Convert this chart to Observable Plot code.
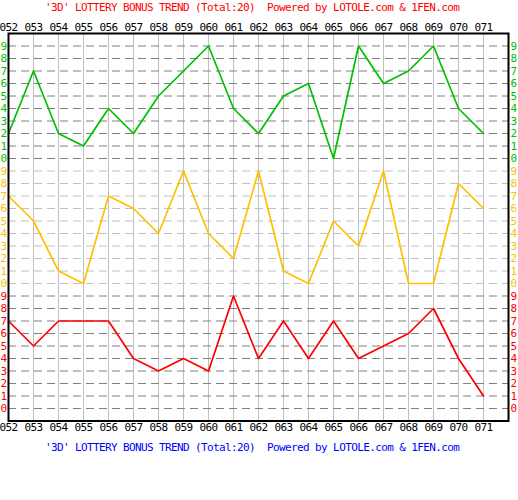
<!DOCTYPE html>
<html><head><meta charset="utf-8">
<script src="https://cdn.jsdelivr.net/npm/d3@7"></script>
<script src="https://cdn.jsdelivr.net/npm/@observablehq/plot@0.6"></script>
<style>
body{margin:0;background:#fff;}
.t{font-family:"DejaVu Sans Mono",monospace;font-size:11px;letter-spacing:-0.62px;height:15px;line-height:15px;width:473px;padding-left:45px;white-space:pre;}
#chart{height:425px;}
</style></head><body>
<div class="t" id="title" style="color:#ff0000"></div>
<div id="chart"></div>
<div class="t" id="caption" style="color:#0000ff"></div>
<script>
const titleText = "'3D' LOTTERY BONUS TREND (Total:20)  Powered by LOTOLE.com & 1FEN.com";
const periods = ["052","053","054","055","056","057","058","059","060","061","062","063","064","065","066","067","068","069","070","071"];
const greenValues  = [2,7,2,1,4,2,5,7,9,4,2,5,6,0,9,6,7,9,4,2];
const yellowValues = [7,5,1,0,7,6,4,9,4,2,9,1,0,5,3,9,0,0,8,6];
const redValues    = [7,5,7,7,7,4,3,4,3,9,4,7,4,7,4,5,6,8,4,1];
const digits = [0,1,2,3,4,5,6,7,8,9];

document.getElementById("title").textContent = titleText;
document.getElementById("caption").textContent = titleText;

const sections = [
  {values: greenValues,  base: 21, color: "#00c000", grid: "#808080"},
  {values: yellowValues, base: 11, color: "#ffc000", grid: "#c0c0c0"},
  {values: redValues,    base: 1,  color: "#ff0000", grid: "#808080"}
];

const gridRows = sections.flatMap(s => digits.map(d => ({level: s.base + d, color: s.grid})));
const labelRows = sections.flatMap(s => digits.map(d => ({level: s.base + d, text: String(d), color: s.color})));
const cols = d3.range(1, 20);

const font = {fontFamily: "DejaVu Sans Mono", fontSize: 11};

const marks = [
  Plot.ruleX(cols, {x: d => d, y1: 0, y2: 31, stroke: "#c0c0c0", strokeWidth: 1}),
  Plot.ruleY(gridRows, {y: "level", x1: 0, x2: 20, stroke: "color", strokeDasharray: "8,5", strokeWidth: 1}),
  ...sections.map(s => Plot.line(s.values, {x: (d, i) => i, y: d => s.base + d, stroke: s.color, strokeWidth: 1.7})),
  Plot.frame({stroke: "black", strokeWidth: 2}),
  Plot.text(labelRows, {x: 0, y: "level", text: "text", fill: "color", textAnchor: "start", dx: -8, ...font}),
  Plot.text(labelRows, {x: 20, y: "level", text: "text", fill: "color", textAnchor: "start", dx: 2, ...font}),
  Plot.text(periods, {x: (d, i) => i, y: 31, text: d => d, fill: "black", dy: -6.5, ...font}),
  Plot.text(periods, {x: (d, i) => i, y: 0, text: d => d, fill: "black", dy: 6.5, ...font})
];

const chart = Plot.plot({
  width: 518,
  height: 425,
  marginLeft: 8,
  marginRight: 10,
  marginTop: 18,
  marginBottom: 19.5,
  x: {domain: [0, 20], axis: null},
  y: {domain: [0, 31], axis: null},
  color: {type: "identity"},
  style: {fontFamily: "DejaVu Sans Mono", fontSize: "11px", letterSpacing: "-0.62px", background: "white", overflow: "visible"},
  marks
});
document.getElementById("chart").appendChild(chart);
</script>
</body></html>
